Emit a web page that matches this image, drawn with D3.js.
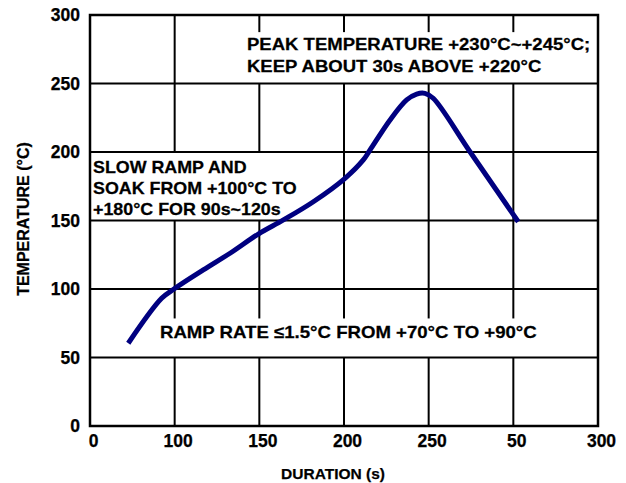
<!DOCTYPE html>
<html>
<head>
<meta charset="utf-8">
<script src="https://cdn.jsdelivr.net/npm/d3@7"></script>
<style>
  body { margin: 0; background: #fff; }
  text { font-family: "Liberation Sans", Arial, sans-serif; font-weight: bold; fill: #000; }
</style>
</head>
<body>
<svg id="chart" width="626" height="483"></svg>
<script>
// ---- data ----
const xTickValues = [0, 50, 100, 150, 200, 250, 300];
const xTickLabels = ["0", "100", "150", "200", "250", "50", "300"];
const yTickValues = [0, 50, 100, 150, 200, 250, 300];
const durationS = [22.6, 42.3, 50.2, 66.9, 82.7, 99.4, 114.2, 131.9, 150.6, 161.4, 165.4, 177.2, 187.0, 192.9, 197.8, 202.7, 224.4, 252.9];
const temperatureC = [60.4, 93.2, 100.5, 113.9, 126.1, 140.1, 150.4, 163.7, 180.8, 194.2, 201.5, 223.4, 238.0, 242.3, 242.8, 239.2, 200.2, 149.1];
const peakNote = ["PEAK TEMPERATURE +230°C~+245°C;", "KEEP ABOUT 30s ABOVE +220°C"];
const soakNote = ["SLOW RAMP AND", "SOAK FROM +100°C TO", "+180°C FOR 90s~120s"];
const rampNote = ["RAMP RATE \u22641.5°C FROM +70°C TO +90°C"];
const xTitle = "DURATION (s)";
const yTitle = "TEMPERATURE (°C)";

// ---- layout ----
const W = 626, H = 483;
const m = { left: 90, right: 28, top: 15, bottom: 57 };
const svg = d3.select("#chart");
const x = d3.scaleLinear().domain([0, 300]).range([m.left, W - m.right]);
const y = d3.scaleLinear().domain([0, 300]).range([H - m.bottom, m.top]);
const FONT = '"Liberation Sans", Arial, sans-serif';

const g = svg.append("g");

// vertical grid
g.selectAll("line.vg").data(xTickValues.slice(1, -1)).join("line")
  .attr("x1", d => x(d)).attr("x2", d => x(d))
  .attr("y1", y(300)).attr("y2", y(0))
  .attr("stroke", "#000").attr("stroke-width", 2);

// annotation boxes (white backgrounds)
const boxes = [
  { x0: 88, x1: 300, y0: 250, y1: 287.5 },
  { x0: 0, x1: 133, y0: 150, y1: 200 },
  { x0: 38, x1: 300, y0: 50, y1: 78.5 }
];
g.selectAll("rect.box").data(boxes).join("rect")
  .attr("x", d => x(d.x0)).attr("width", d => x(d.x1) - x(d.x0))
  .attr("y", d => y(d.y1)).attr("height", d => y(d.y0) - y(d.y1))
  .attr("fill", "#fff");

// horizontal grid
g.selectAll("line.hg").data(yTickValues.slice(1, -1)).join("line")
  .attr("x1", x(0)).attr("x2", x(300))
  .attr("y1", d => y(d)).attr("y2", d => y(d))
  .attr("stroke", "#000").attr("stroke-width", 2);

// frame
g.append("rect")
  .attr("x", x(0)).attr("y", y(300))
  .attr("width", x(300) - x(0)).attr("height", y(0) - y(300))
  .attr("fill", "none").attr("stroke", "#000").attr("stroke-width", 2.5);

// axes
const xAxis = d3.axisBottom(x).tickValues(xTickValues)
  .tickFormat((d, i) => xTickLabels[i]).tickSize(0).tickPadding(9);
const gx = svg.append("g").attr("transform", `translate(0,${y(0)})`).call(xAxis);
gx.select(".domain").remove();
gx.selectAll("text").attr("font-size", 17.5).attr("dx", 3)
  .style("font-family", FONT).style("font-weight", "bold")
  .attr("stroke", "#000").attr("stroke-width", 0.25);

const yAxis = d3.axisLeft(y).tickValues(yTickValues).tickSize(0).tickPadding(10);
const gy = svg.append("g").attr("transform", `translate(${x(0)},0)`).call(yAxis);
gy.select(".domain").remove();
gy.selectAll("text").attr("font-size", 17.5)
  .style("font-family", FONT).style("font-weight", "bold")
  .attr("stroke", "#000").attr("stroke-width", 0.25);

// axis titles
svg.append("text").attr("x", 333).attr("y", 479).attr("text-anchor", "middle")
  .attr("font-size", 15.5).attr("stroke", "#000").attr("stroke-width", 0.25).text(xTitle);
svg.append("text").attr("transform", "translate(29,219) rotate(-90)")
  .attr("text-anchor", "middle").attr("font-size", 16)
  .attr("stroke", "#000").attr("stroke-width", 0.25).text(yTitle);

// notes
function note(lines, px, py, lh, sx) {
  const t = svg.append("text").attr("font-size", 17)
    .attr("transform", `translate(${px},${py}) scale(${sx},1)`)
    .attr("stroke", "#000").attr("stroke-width", 0.25);
  lines.forEach((s, i) => t.append("tspan").attr("x", 0).attr("y", i * lh).text(s));
}
note(peakNote, 247, 50, 22.5, 1.09);
note(soakNote, 93, 172.5, 21.2, 1.05);
note(rampNote, 160, 338, 20, 1.095);

// curve
const pts = durationS.map((d, i) => [d, temperatureC[i]]);
const line = d3.line().x(d => x(d[0])).y(d => y(d[1])).curve(d3.curveCatmullRom.alpha(0.5));
svg.append("path").attr("d", line(pts))
  .attr("fill", "none").attr("stroke", "#000080").attr("stroke-width", 5)
  .attr("stroke-linejoin", "round");
</script>
</body>
</html>
